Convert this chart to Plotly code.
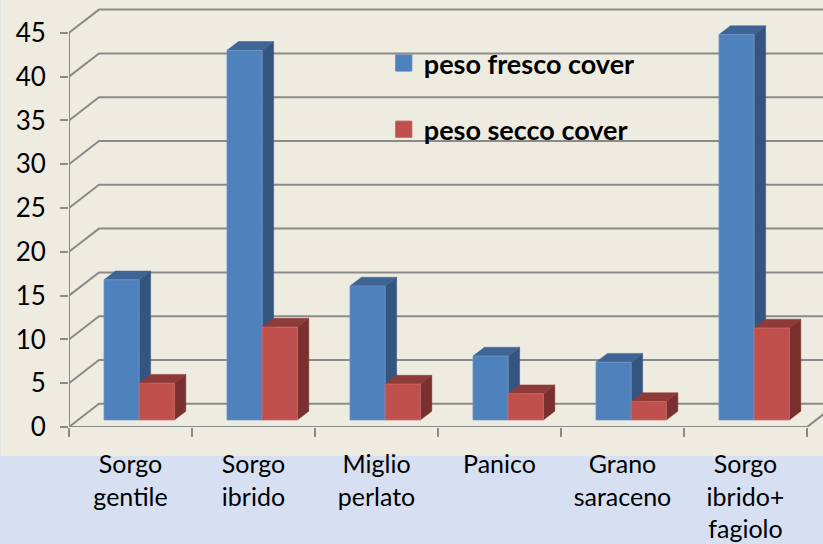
import plotly.graph_objects as go

categories = ["Sorgo<br>gentile", "Sorgo<br>ibrido", "Miglio<br>perlato", "Panico", "Grano<br>saraceno", "Sorgo<br>ibrido+<br>fagiolo"]
peso_fresco = [16.0, 42.2, 15.3, 7.3, 6.6, 44.0]
peso_secco = [4.2, 10.6, 4.1, 3.0, 2.1, 10.5]
y_ticks = [0, 5, 10, 15, 20, 25, 30, 35, 40, 45]
name_fresco = "peso fresco cover"
name_secco = "peso secco cover"

W, H = 823, 544
LEFT, BOTTOM = 68.5, 427
PX_X, PX_Y = 123.08, 8.76
BAND_TOP = 456

# oblique projection, in axis units
WALL_DX, WALL_DY = 30 / PX_X, 23.2 / PX_Y
BAR_DX, BAR_DY = 11.5 / PX_X, 8.8 / PX_Y
FLOOR = 7 / PX_Y
BAR_W = 35.2 / PX_X
BAR_START = 35 / PX_X
N = len(categories)
XMAX = (W - LEFT) / PX_X
YMAX = BOTTOM / PX_Y

GRID = "#8A8A8A"
BG = "#EEECE1"
BAND = "#D6E0F2"
FONT = "Lato, Carlito, Calibri, sans-serif"

fig = go.Figure()

# walls: gridlines
gx, gy = [], []
for v in y_ticks:
    gx += [0, WALL_DX, XMAX, None]
    gy += [v, v + WALL_DY, v + WALL_DY, None]
fig.add_trace(go.Scatter(x=gx, y=gy, mode="lines", line=dict(color=GRID, width=2),
                         hoverinfo="skip", showlegend=False))
# axis frame
fig.add_trace(go.Scatter(x=[0, 0, None, 0, N, N + WALL_DX],
                         y=[y_ticks[-1], 0, None, 0, 0, WALL_DY],
                         mode="lines", line=dict(color=GRID, width=2),
                         hoverinfo="skip", showlegend=False))


def faces(values, slot):
    out = {"front": ([], []), "side": ([], []), "top": ([], [])}
    for i, v in enumerate(values):
        x0 = i + BAR_START + slot * BAR_W
        x1 = x0 + BAR_W
        y1 = FLOOR + v
        out["side"][0].extend([x1, x1 + BAR_DX, x1 + BAR_DX, x1, x1, None])
        out["side"][1].extend([FLOOR, FLOOR + BAR_DY, y1 + BAR_DY, y1, FLOOR, None])
        out["top"][0].extend([x0, x1, x1 + BAR_DX, x0 + BAR_DX, x0, None])
        out["top"][1].extend([y1, y1, y1 + BAR_DY, y1 + BAR_DY, y1, None])
        out["front"][0].extend([x0, x1, x1, x0, x0, None])
        out["front"][1].extend([FLOOR, FLOOR, y1, y1, FLOOR, None])
    return out


series = [
    (peso_fresco, 0, "#4F81BD", "#34557F", "#3E6593", "#6C97C9", name_fresco),
    (peso_secco, 1, "#C0504D", "#7A302E", "#8E3A38", "#CE6E6B", name_secco),
]
for values, slot, front, side, top, edge, name in series:
    f = faces(values, slot)
    for key, fill, ln, w in (("side", side, side, 0.5), ("top", top, top, 0.5), ("front", front, edge, 0.75)):
        fig.add_trace(go.Scatter(x=f[key][0], y=f[key][1], mode="lines", fill="toself", fillcolor=fill,
                                 line=dict(color=ln, width=w), name=name, hoverinfo="skip",
                                 showlegend=False))
    fig.add_trace(go.Scatter(x=[None], y=[None], mode="markers", name=name, legendgroup=name,
                             marker=dict(symbol="square", size=16, color=front,
                                         line=dict(color=front, width=1))))

fig.update_layout(
    width=W, height=H,
    margin=dict(l=LEFT, r=0, t=0, b=H - BOTTOM, pad=0, autoexpand=False),
    paper_bgcolor=BAND, plot_bgcolor="rgba(0,0,0,0)",
    font=dict(family=FONT, color="#000000"),
    shapes=[dict(type="rect", xref="paper", yref="paper", layer="below",
                 x0=-LEFT / (W - LEFT), x1=1, y0=-(BAND_TOP - BOTTOM) / BOTTOM, y1=1,
                 fillcolor=BG, line=dict(width=0))],
    legend=dict(x=(383.5 - LEFT) / (W - LEFT), y=1 - 39 / BOTTOM, xanchor="left", yanchor="top",
                bgcolor="rgba(0,0,0,0)", borderwidth=0, traceorder="grouped",
                tracegroupgap=28,
                font=dict(family=FONT, size=27, color="#000000", weight="bold")),
    xaxis=dict(range=[0, XMAX], showgrid=False, zeroline=False, showline=False,
               tickmode="array", tickvals=[i + 0.5 for i in range(N)],
               ticktext=categories,
               ticks="", tickangle=0, ticklabelstandoff=20,
               tickfont=dict(family=FONT, size=25, color="#000000"),
               minor=dict(tickmode="array", tickvals=list(range(N + 1)), ticks="outside",
                          ticklen=9, tickwidth=2, tickcolor=GRID, showgrid=False)),
    yaxis=dict(range=[0, YMAX], showgrid=False, zeroline=False, showline=False,
               tickmode="array", tickvals=y_ticks, ticks="outside", ticklen=8, tickwidth=2,
               tickcolor=GRID, ticklabelstandoff=9,
               tickfont=dict(family=FONT, size=26, color="#000000")),
)

fig.write_html("out.html", config={"displayModeBar": False},
               post_script="document.body.style.margin='0';document.documentElement.style.overflow='hidden';")
